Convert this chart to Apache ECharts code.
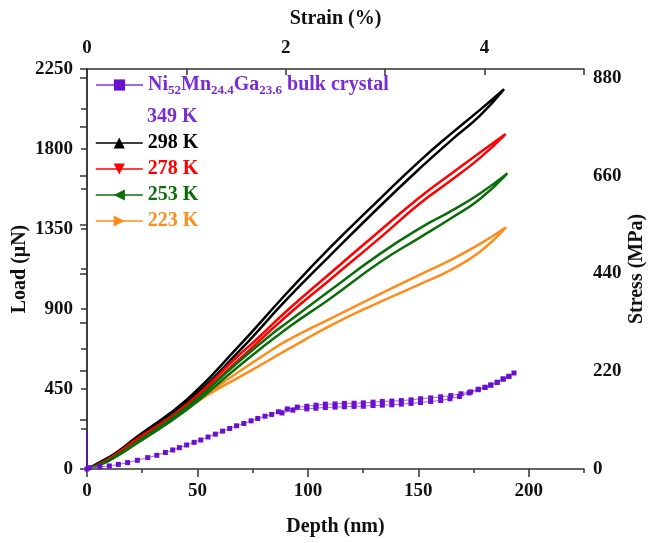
<!DOCTYPE html>
<html>
<head>
<meta charset="utf-8">
<title>Load - Depth</title>
<script src="https://cdn.jsdelivr.net/npm/echarts@6/dist/echarts.min.js"></script>
<style>
  html, body { margin: 0; padding: 0; background: #fff; }
  #chart { width: 648px; height: 543px; }
</style>
</head>
<body>
<div id="chart"></div>
<script>
// [depth (nm), load (uN)], loading branch then unloading branch
var load349 = [[0, 0], [1.1, 7.5], [5.8, 13], [10.1, 17], [14.2, 26], [18.4, 36], [22.8, 49], [27.5, 64], [31.6, 77],
  [35.5, 93], [38.8, 107], [41.8, 120], [45.1, 135], [48.5, 150], [51.5, 163], [54.8, 180], [58.1, 196], [61.4, 213],
  [64.6, 228], [67.7, 243], [71.0, 256], [74.3, 271], [77.3, 284], [80.6, 297], [83.6, 307], [86.7, 322], [90.7, 338],
  [95.2, 348], [99.5, 353], [103.7, 359], [107.9, 365], [112.3, 366], [116.5, 369], [120.9, 370], [125.1, 372],
  [129.5, 376], [133.7, 380], [138.0, 382], [142.3, 385], [146.7, 389], [151.0, 395], [155.6, 400], [160.1, 406],
  [164.7, 413], [169.3, 423], [173.7, 434], [177.1, 449], [180.2, 460], [182.8, 473], [185.7, 488], [188.4, 507],
  [191.0, 522], [193.3, 540]];
var unload349 = [[191.0, 520], [188.4, 505], [185.7, 487], [182.8, 471], [180.2, 458], [177.1, 446], [173.0, 428],
  [168.6, 408], [164.3, 395], [160.1, 385], [155.6, 380], [151.0, 374], [146.7, 369], [142.3, 365], [138.0, 361],
  [133.7, 359], [129.5, 357], [125.1, 353], [120.9, 352], [116.5, 350], [112.3, 348], [107.9, 346], [103.6, 342],
  [99.5, 338], [93.2, 331], [88.3, 315]];
var axis349 = [[0, 0], [0, 215]];

var load298 = [[0, 0], [9, 60], [13.6, 95], [22.6, 181], [45.3, 392], [67.9, 680], [90.5, 990], [110, 1245],
  [132.6, 1520], [150.8, 1735], [165, 1888], [177.9, 2020], [188.8, 2136]];
var unload298 = [[177.9, 1988], [165, 1850], [150.8, 1692], [132.6, 1478], [110, 1200], [90.5, 955], [67.9, 650],
  [45.3, 375], [22.6, 170], [13.6, 90], [9, 55], [0, 0]];

var load278 = [[0, 0], [9, 52], [22.6, 168], [45.3, 365], [67.9, 630], [76.8, 730], [90.5, 890], [110, 1100],
  [132.6, 1340], [150.8, 1530], [165, 1662], [177.9, 1780], [189.5, 1884]];
var unload278 = [[177.9, 1750], [165, 1625], [150.8, 1495], [132.6, 1300], [110, 1065], [90.5, 862], [67.9, 605],
  [45.3, 352], [22.6, 160], [9, 48], [0, 0]];

var load253 = [[0, 0], [9, 45], [22.6, 153], [45.3, 350], [67.9, 595], [84.3, 765], [90.5, 822], [110, 1004],
  [132.6, 1210], [150.8, 1355], [165, 1452], [177.9, 1550], [190.3, 1663]];
var unload253 = [[177.9, 1519], [165, 1412], [150.8, 1303], [132.6, 1163], [110, 958], [90.5, 790], [67.9, 570],
  [45.3, 335], [22.6, 145], [9, 40], [0, 0]];

var load223 = [[0, 0], [9, 45], [22.6, 150], [45.3, 345], [55, 430], [67.9, 540], [80, 640], [90.5, 722], [110, 845],
  [130, 968], [150.8, 1094], [165, 1178], [177.9, 1266], [189.7, 1360]];
var unload223 = [[177.9, 1222], [165, 1122], [150.8, 1040], [130, 925], [110, 805], [90.5, 670], [80, 595],
  [67.9, 510], [55, 420], [45.3, 338], [22.6, 145], [9, 42], [0, 0]];

// axis ranges / label steps
var depthMax = 225, loadMax = 2250, stressMax = 900, strainMax = 5;
var loadLabelStep = 450, stressLabelStep = 220, strainLabelStep = 2;

var FONT = '"Liberation Serif", "DejaVu Serif", serif';
var PURPLE = '#7B2CD9';
var AXIS_COLOR = '#333';

var chart = echarts.init(document.getElementById('chart'));

// one closed loop per temperature, markers only in the legend
function curve(name, color, rotate, load, unload) {
  return {
    name: name,
    type: 'line',
    data: load.concat(unload),
    smooth: 0.5,
    showSymbol: false,
    symbol: 'triangle',
    symbolRotate: rotate,
    lineStyle: { color: color, width: 2.5 },
    itemStyle: { color: color },
    emphasis: { disabled: true }
  };
}

function axisLine(show) {
  return { show: show, lineStyle: { color: AXIS_COLOR, width: 1.5 } };
}

var labelStyle = { color: '#111', fontFamily: FONT, fontWeight: 'bold', fontSize: 19 };
var nameStyle = { color: '#111', fontFamily: FONT, fontWeight: 'bold', fontSize: 20 };

chart.setOption({
  animation: false,
  backgroundColor: '#fff',
  // fixed plot box, don't let names/labels shrink it
  grid: { left: 87, right: 64, top: 69, bottom: 74, containLabel: false, outerBoundsMode: 'none' },
  xAxis: [
    {
      type: 'value', position: 'bottom', min: 0, max: depthMax, interval: 50,
      name: 'Depth (nm)', nameLocation: 'middle', nameGap: 48, nameTextStyle: nameStyle,
      axisLine: axisLine(true),
      axisTick: { length: 8, lineStyle: { color: AXIS_COLOR, width: 1.5 } },
      axisLabel: Object.assign({ margin: 13, showMaxLabel: false }, labelStyle),
      splitLine: { show: false }
    },
    {
      // shorter minor ticks every 25 nm
      type: 'value', position: 'bottom', min: 0, max: depthMax, interval: 25,
      axisLine: { show: false },
      axisTick: { length: 4, lineStyle: { color: AXIS_COLOR, width: 1.5 } },
      axisLabel: { show: false },
      splitLine: { show: false }
    },
    {
      type: 'value', position: 'top', min: 0, max: strainMax, interval: 1,
      name: 'Strain (%)', nameLocation: 'middle', nameGap: 40, nameTextStyle: nameStyle,
      axisLine: axisLine(true),
      axisTick: { inside: true, length: 6, lineStyle: { color: AXIS_COLOR, width: 1.5 } },
      axisLabel: Object.assign({
        margin: 11,
        formatter: function (v) { return v % strainLabelStep === 0 && v < strainMax ? v : ''; }
      }, labelStyle),
      splitLine: { show: false }
    }
  ],
  yAxis: [
    {
      type: 'value', position: 'left', min: 0, max: loadMax, interval: 225,
      name: 'Load (\u03bcN)', nameLocation: 'middle', nameGap: 57, nameMoveOverlap: false,
      nameTextStyle: nameStyle,
      axisLine: axisLine(true),
      axisTick: { length: 6, lineStyle: { color: AXIS_COLOR, width: 1.5 } },
      axisLabel: Object.assign({
        margin: 14,
        formatter: function (v) { return v % loadLabelStep === 0 ? v : ''; }
      }, labelStyle),
      splitLine: { show: false }
    },
    {
      type: 'value', position: 'right', min: 0, max: stressMax, interval: 110,
      name: 'Stress (MPa)', nameLocation: 'middle', nameGap: 43, nameRotate: 90, nameMoveOverlap: false,
      nameTextStyle: nameStyle,
      axisLine: axisLine(true),
      axisTick: { inside: true, length: 7, lineStyle: { color: AXIS_COLOR, width: 1.5 } },
      axisLabel: Object.assign({
        margin: 9,
        formatter: function (v) { return v % stressLabelStep === 0 && v < stressMax ? v : ''; }
      }, labelStyle),
      splitLine: { show: false }
    }
  ],
  legend: [
    {
      data: [{ name: 'Ni52Mn24.4Ga23.6 bulk crystal' }],
      left: 95, top: 75, padding: 0,
      itemWidth: 47, itemHeight: 14,
      selectedMode: false,
      formatter: function () {
        return '{m|Ni}{s|52}{m|Mn}{s|24.4}{m|Ga}{s|23.6}{m| bulk crystal}';
      },
      textStyle: {
        color: PURPLE,
        rich: {
          m: { color: PURPLE, fontFamily: FONT, fontWeight: 'bold', fontSize: 20, lineHeight: 24 },
          s: { color: PURPLE, fontFamily: FONT, fontWeight: 'bold', fontSize: 13, lineHeight: 10, verticalAlign: 'bottom' }
        }
      }
    },
    {
      data: [
        { name: '298 K', textStyle: { color: '#000' } },
        { name: '278 K', textStyle: { color: '#FF0000' } },
        { name: '253 K', textStyle: { color: '#0B6E0B' } },
        { name: '223 K', textStyle: { color: '#FF8C1A' } }
      ],
      orient: 'vertical',
      left: 95, top: 133, padding: 0, itemGap: 6,
      itemWidth: 47, itemHeight: 14,
      lineStyle: { width: 1.5 },
      selectedMode: false,
      textStyle: { fontFamily: FONT, fontWeight: 'bold', fontSize: 20, lineHeight: 20 }
    }
  ],
  graphic: [
    {
      type: 'text', left: 147, top: 107,
      style: { text: '349 K', fill: PURPLE, font: 'bold 20px "Liberation Serif"' }
    }
  ],
  series: [
    curve('223 K', '#FF8C1A', -90, load223, unload223),
    curve('298 K', '#000000', 0, load298, unload298),
    curve('278 K', '#FF0000', 180, load278, unload278),
    curve('253 K', '#0B6E0B', 90, load253, unload253),
    {
      type: 'line',
      data: axis349,
      symbol: 'none',
      lineStyle: { color: '#5A10B8', width: 1.5 },
      emphasis: { disabled: true }
    },
    {
      name: 'Ni52Mn24.4Ga23.6 bulk crystal',
      type: 'line',
      data: load349.concat(unload349),
      symbol: 'rect',
      symbolSize: 5,
      lineStyle: { color: '#A066EC', width: 1 },
      itemStyle: { color: '#6A10CF' },
      emphasis: { disabled: true }
    }
  ]
});
</script>
</body>
</html>
